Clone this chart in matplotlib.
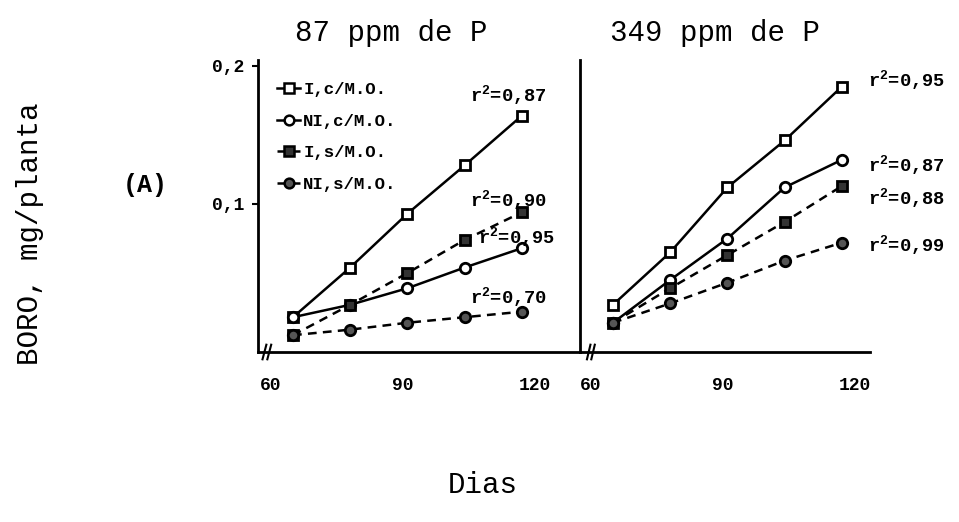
import matplotlib
matplotlib.use("Agg")
import matplotlib.pyplot as plt
from matplotlib.lines import Line2D

plt.rcParams['font.family'] = ['Liberation Mono', 'DejaVu Sans Mono']
plt.rcParams['mathtext.fontset'] = 'custom'
plt.rcParams['mathtext.rm'] = 'Liberation Mono:bold'
plt.rcParams['mathtext.it'] = 'Liberation Mono:bold'
plt.rcParams['mathtext.bf'] = 'Liberation Mono:bold'

# ---------------- data ----------------
days = [65, 78, 91, 104, 117]
series_names = ["I,c/M.O.", "NI,c/M.O.", "I,s/M.O.", "NI,s/M.O."]

# 87 ppm de P
p87_I_c = [0.018, 0.054, 0.093, 0.128, 0.164]
p87_NI_c = [0.018, 0.027, 0.039, 0.054, 0.068]
p87_I_s = [0.005, 0.027, 0.050, 0.074, 0.094]
p87_NI_s = [0.005, 0.009, 0.014, 0.018, 0.022]

# 349 ppm de P
p349_I_c = [0.027, 0.065, 0.112, 0.146, 0.185]
p349_NI_c = [0.014, 0.045, 0.075, 0.112, 0.132]
p349_I_s = [0.014, 0.039, 0.063, 0.087, 0.113]
p349_NI_s = [0.014, 0.028, 0.043, 0.059, 0.072]

r2_p87 = ["0,87", "0,90", "0,95", "0,70"]
r2_p349 = ["0,95", "0,87", "0,88", "0,99"]

x_ticks = [60, 90, 120]
y_ticks = [0.1, 0.2]
y_ticklabels = ["0,1", "0,2"]

# ---------------- figure ----------------
W, H = 959, 522
fig = plt.figure(figsize=(W / 100, H / 100), dpi=100)

def fx(px):
    return px / W

def fy(py):
    return 1 - py / H

axL = fig.add_axes([fx(258), fy(352), fx(580) - fx(258), fy(60) - fy(352)])
axR = fig.add_axes([fx(580), fy(352), fx(870) - fx(580), fy(60) - fy(352)])

styles = [
    dict(ls='-', marker='s', mfc='white'),
    dict(ls='-', marker='o', mfc='white'),
    dict(ls=(0, (3.5, 2.5)), marker='s', mfc='#333333'),
    dict(ls=(0, (3.5, 2.5)), marker='o', mfc='#555555'),
]

def draw(ax, vals):
    for v, st in zip(vals, styles):
        ax.plot(days, v, color='black', lw=1.8, ls=st['ls'], marker=st['marker'],
                ms=7.5, mfc=st['mfc'], mec='black', mew=2.0, zorder=3)

draw(axL, [p87_I_c, p87_NI_c, p87_I_s, p87_NI_s])
draw(axR, [p349_I_c, p349_NI_c, p349_I_s, p349_NI_s])

axL.set_xlim(57.05, 130.2)
axR.set_xlim(57.5, 123.4)
for ax in (axL, axR):
    ax.set_ylim(-0.0072, 0.2043)
    ax.spines['top'].set_visible(False)
    ax.spines['right'].set_visible(False)
    for s in ('left', 'bottom'):
        ax.spines[s].set_linewidth(2.0)
    ax.set_xticks(x_ticks)
    ax.set_xticklabels([str(t) for t in x_ticks])
    ax.tick_params(axis='x', length=0, pad=18, labelsize=13)
    for lab in ax.get_xticklabels():
        lab.set_fontweight('bold')
    ax.patch.set_alpha(0)

axL.set_yticks(y_ticks)
axL.set_yticklabels(y_ticklabels)
axL.tick_params(axis='y', length=4, width=1.5, pad=6, labelsize=13)
for lab in axL.get_yticklabels():
    lab.set_fontweight('bold')
axR.set_yticks([])

# axis break marks
for ax, xs in ((axL, 0.02), (axR, 0.03)):
    for dx in (0.0, 0.015):
        ax.plot([xs + dx - 0.006, xs + dx + 0.006], [-0.025, 0.025],
                transform=ax.transAxes, color='black', lw=1.5, clip_on=False)

# legend
handles = [Line2D([], [], color='black', lw=1.8, ls=st['ls'], marker=st['marker'],
                  ms=7, mfc=st['mfc'], mec='black', mew=1.8) for st in styles]
axL.legend(handles, series_names, loc='upper left', bbox_to_anchor=(0.06, 0.925),
           frameon=False, handlelength=1.3, handletextpad=0.2, labelspacing=0.95,
           borderpad=0, borderaxespad=0, prop=dict(family='Liberation Mono', weight='bold', size=12.5))

# r^2 labels
r2L_pos = [(0.658, 0.880), (0.658, 0.521), (0.683, 0.394), (0.658, 0.188)]
for t, (x, y) in zip(r2_p87, r2L_pos):
    axL.text(x, y, r"r$^{2}$=" + t, transform=axL.transAxes, fontsize=13.5,
             fontweight='bold', va='center', ha='left')
r2R_pos = [(0.993, 0.932), (0.993, 0.640), (0.993, 0.527), (0.993, 0.366)]
for t, (x, y) in zip(r2_p349, r2R_pos):
    axR.text(x, y, r"r$^{2}$=" + t, transform=axR.transAxes, fontsize=13.5,
             fontweight='bold', va='center', ha='left', clip_on=False)

# titles and labels
fig.text(fx(391), fy(33), "87 ppm de P", ha='center', va='center', fontsize=21)
fig.text(fx(715), fy(33), "349 ppm de P", ha='center', va='center', fontsize=21)
fig.text(fx(145), fy(185), "(A)", ha='center', va='center', fontsize=18, fontweight='bold')
fig.text(fx(30), fy(234), "BORO, mg/planta", ha='center', va='center', fontsize=21,
         rotation=90)
fig.text(fx(483), fy(485), "Dias", ha='center', va='center', fontsize=21)

fig.savefig("out.png", dpi=100)
